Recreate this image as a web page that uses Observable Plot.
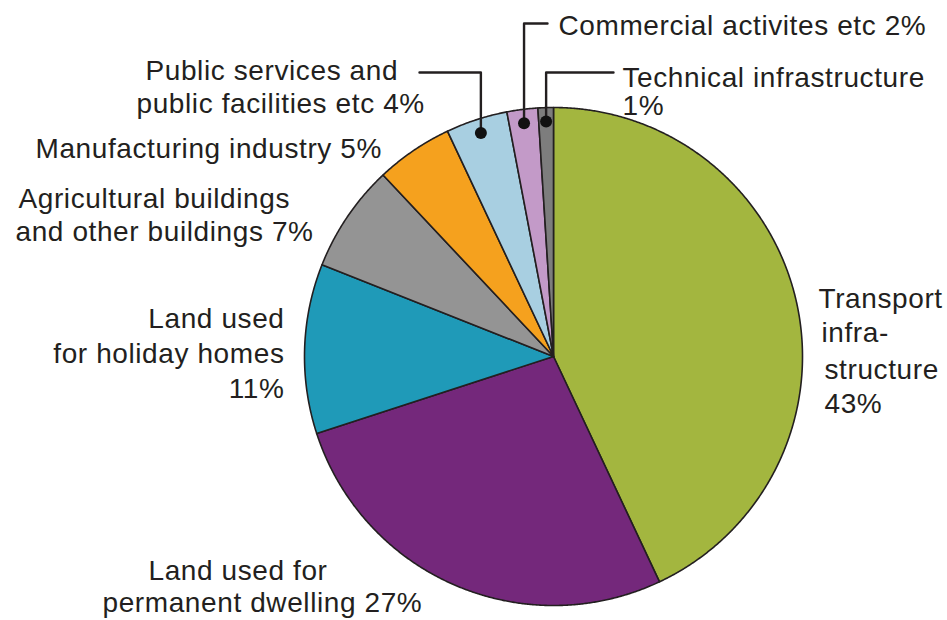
<!DOCTYPE html>
<html><head><meta charset="utf-8">
<script src="https://cdn.jsdelivr.net/npm/d3@7"></script>
<script src="https://cdn.jsdelivr.net/npm/@observablehq/plot@0.6"></script>
<style>body{margin:0;background:#fff} #chart{width:947px;height:620px} #chart svg text{letter-spacing:0.6px}</style>
</head><body><div id="chart"></div>
<script>
// ---- data ----
const categories = [
  "Transport infrastructure",
  "Land used for permanent dwelling",
  "Land used for holiday homes",
  "Agricultural buildings and other buildings",
  "Manufacturing industry",
  "Public services and public facilities etc",
  "Commercial activites etc",
  "Technical infrastructure"
];
const shares = [43, 27, 11, 7, 5, 4, 2, 1];
const colors = ["#a3b63f", "#74287b", "#1f9ab8", "#949494", "#f5a11e", "#a8cfe1", "#c39ac8", "#7d7d7d"];
const labelTexts = [
  ["Transport", "infra-", "structure", "43%"],
  ["Land used for", "permanent dwelling 27%"],
  ["Land used", "for holiday homes", "11%"],
  ["Agricultural buildings", "and other buildings 7%"],
  ["Manufacturing industry 5%"],
  ["Public services and", "public facilities etc 4%"],
  ["Commercial activites etc 2%"],
  ["Technical infrastructure", "1%"]
];

// ---- layout (pixel positions of annotations) ----
const W = 947, H = 620, CX = 553, CY = 356, R = 249;
const px = v => v - CX, py = v => CY - v;
const labelPos = [
  {anchor: "start", pts: [[818, 307], [821, 341], [824, 378], [824, 412]]},
  {anchor: "start", pts: [[148, 579], [102, 611]]},
  {anchor: "end",   pts: [[284, 327], [284, 362], [284, 397]]},
  {anchor: "start", pts: [[18, 207], [15, 240]]},
  {anchor: "start", pts: [[35, 157]]},
  {anchor: "start", pts: [[145, 79], [136, 112]]},
  {anchor: "start", pts: [[558, 34]]},
  {anchor: "start", pts: [[622, 86], [622, 114]]}
];
// leader lines: index of slice -> [y of elbow, x of end]
const leaders = [
  {i: 5, elbowY: 72, endX: 419},
  {i: 6, elbowY: 23, endX: 547},
  {i: 7, elbowY: 72, endX: 613}
];

// ---- geometry from data ----
const arcs = d3.pie().sort(null).startAngle(0).endAngle(2 * Math.PI)(shares);
const slicePts = [];
arcs.forEach((a, i) => {
  slicePts.push({name: categories[i], x: 0, y: 0});
  const n = Math.max(2, Math.ceil((a.endAngle - a.startAngle) / 0.005));
  for (let k = 0; k <= n; k++) {
    const t = a.startAngle + (a.endAngle - a.startAngle) * k / n;
    slicePts.push({name: categories[i], x: R * Math.sin(t), y: R * Math.cos(t)});
  }
});

const dotR = 235;
const dots = leaders.map(l => {
  const a = arcs[l.i], m = (a.startAngle + a.endAngle) / 2;
  return {name: categories[l.i], x: dotR * Math.sin(m), y: dotR * Math.cos(m)};
});
const leaderPts = [];
leaders.forEach((l, j) => {
  const d = dots[j];
  leaderPts.push({name: d.name, x: d.x, y: d.y});
  leaderPts.push({name: d.name, x: d.x, y: py(l.elbowY)});
  leaderPts.push({name: d.name, x: px(l.endX), y: py(l.elbowY)});
});

const textRows = [];
labelTexts.forEach((lines, i) => {
  lines.forEach((t, k) => {
    const [x, y] = labelPos[i].pts[k];
    textRows.push({text: t, x: px(x), y: py(y), anchor: labelPos[i].anchor});
  });
});

const font = {fontFamily: "'Liberation Sans', Arial, Helvetica, sans-serif", fontSize: 28, fill: "#231f20", lineAnchor: "bottom"};

const chart = Plot.plot({
  width: W, height: H, margin: 0,
  x: {domain: [-CX, W - CX], axis: null},
  y: {domain: [-(H - CY), CY], axis: null},
  color: {domain: categories, range: colors},
  style: {background: "#fff"},
  marks: [
    Plot.line(slicePts, {x: "x", y: "y", z: "name", fill: "name", stroke: "#231f20", strokeWidth: 1.6, curve: "linear-closed", strokeLinejoin: "round"}),
    Plot.line(leaderPts, {x: "x", y: "y", z: "name", stroke: "#231f20", strokeWidth: 2.4}),
    Plot.dot(dots, {x: "x", y: "y", r: 6, fill: "#111", stroke: null}),
    Plot.text(textRows.filter(d => d.anchor === "start"), {x: "x", y: "y", text: "text", textAnchor: "start", ...font}),
    Plot.text(textRows.filter(d => d.anchor === "end"), {x: "x", y: "y", text: "text", textAnchor: "end", ...font})
  ]
});
document.getElementById("chart").appendChild(chart);
</script>
</body></html>
